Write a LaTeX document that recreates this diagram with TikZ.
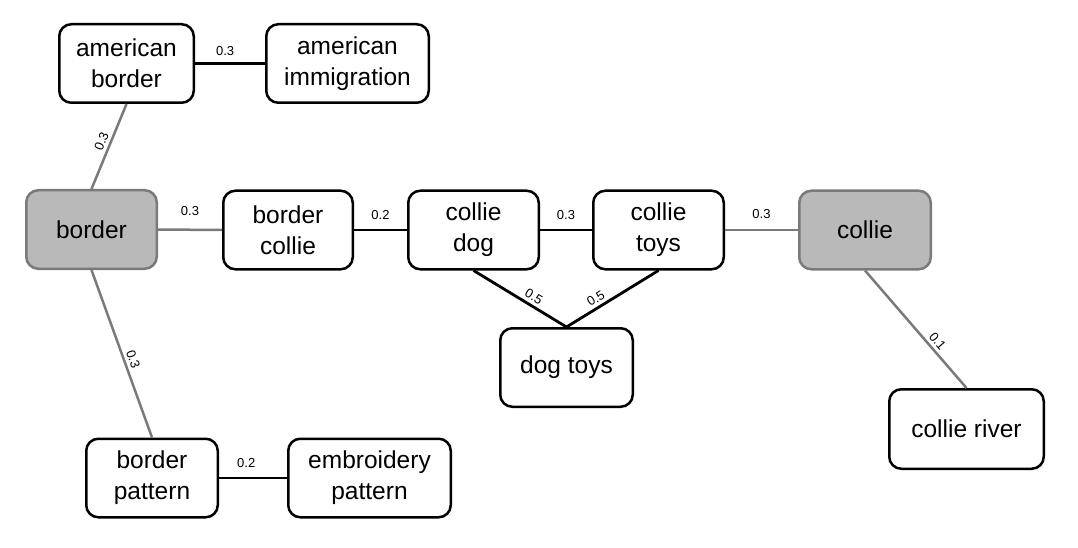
\documentclass[tikz,border=0pt]{standalone}
\usepackage{fontspec}
\setmainfont{Liberation Sans}
\definecolor{seedgray}{HTML}{B9B9B9}
\definecolor{seedline}{HTML}{7A7A7A}
\definecolor{edgegray}{HTML}{7A7A7A}
\begin{document}
\begin{tikzpicture}[x=1pt,y=-1pt,
  box/.style={draw=black, line width=2.5pt, rounded corners=12pt, fill=white, align=center,
    inner sep=0pt, minimum height=78.5pt, font=\fontsize{24.5}{31}\selectfont},
  seed/.style={box, fill=seedgray, draw=seedline},
  bedge/.style={line width=2.8pt, draw=black},
  gedge/.style={line width=2.5pt, draw=edgegray},
  lbl/.style={font=\fontsize{13}{15}\selectfont, inner sep=1pt, text=black}]
\useasboundingbox (0,0) rectangle (1078,548);
% nodes
\node[box, minimum width=134.5pt] (nab) at (126.5,63.5) {american\\border};
\node[box, minimum width=162.5pt] (nai) at (347.5,63.5) {american\\immigration};
\node[seed, minimum width=130.5pt] (nbo) at (91.5,229.5) {border};
\node[box, minimum width=129.5pt] (nbc) at (288,230) {border\\collie};
\node[box, minimum width=130.5pt] (ncd) at (473.5,230) {collie\\dog};
\node[box, minimum width=130.5pt] (nct) at (658.5,230) {collie\\toys};
\node[seed, minimum width=131.5pt] (nco) at (865,230) {collie};
\node[box, minimum width=132.5pt] (ndt) at (566.5,367.5) {dog toys};
\node[box, minimum width=154.5pt, minimum height=79.5pt] (ncr) at (966.5,429) {collie river};
\node[box, minimum width=131.5pt] (nbp) at (152,478) {border\\pattern};
\node[box, minimum width=162.5pt] (nep) at (369.5,478) {embroidery\\pattern};
% edges
\draw[bedge] (nab.east) -- node[lbl, pos=0.43, above=5pt] {0.3} (nai.west);
\draw[gedge] (nbo.north) -- node[lbl, sloped, above=2pt, pos=0.52] {0.3} (nab.south);
\draw[gedge] (nbo.east) -- node[lbl, above=12pt] {0.3} (nbc.west);
\draw[bedge] (nbc.east) -- node[lbl, above=8pt] {0.2} (ncd.west);
\draw[bedge] (ncd.east) -- node[lbl, above=8pt] {0.3} (nct.west);
\draw[gedge] (nct.east) -- node[lbl, above=9pt] {0.3} (nco.west);
\draw[bedge] (ncd.south) -- node[lbl, sloped, above=2pt, pos=0.6] {0.5} (ndt.north);
\draw[bedge] (nct.south) -- node[lbl, sloped, above=2pt, pos=0.63] {0.5} (ndt.north);
\draw[gedge] (nco.south) -- node[lbl, sloped, above=2pt, pos=0.65] {0.1} (ncr.north);
\draw[gedge] (nbo.south) -- node[lbl, sloped, above=2pt, pos=0.55] {0.3} (nbp.north);
\draw[bedge] (nbp.east) -- node[lbl, pos=0.4, above=8pt] {0.2} (nep.west);
\end{tikzpicture}
\end{document}
